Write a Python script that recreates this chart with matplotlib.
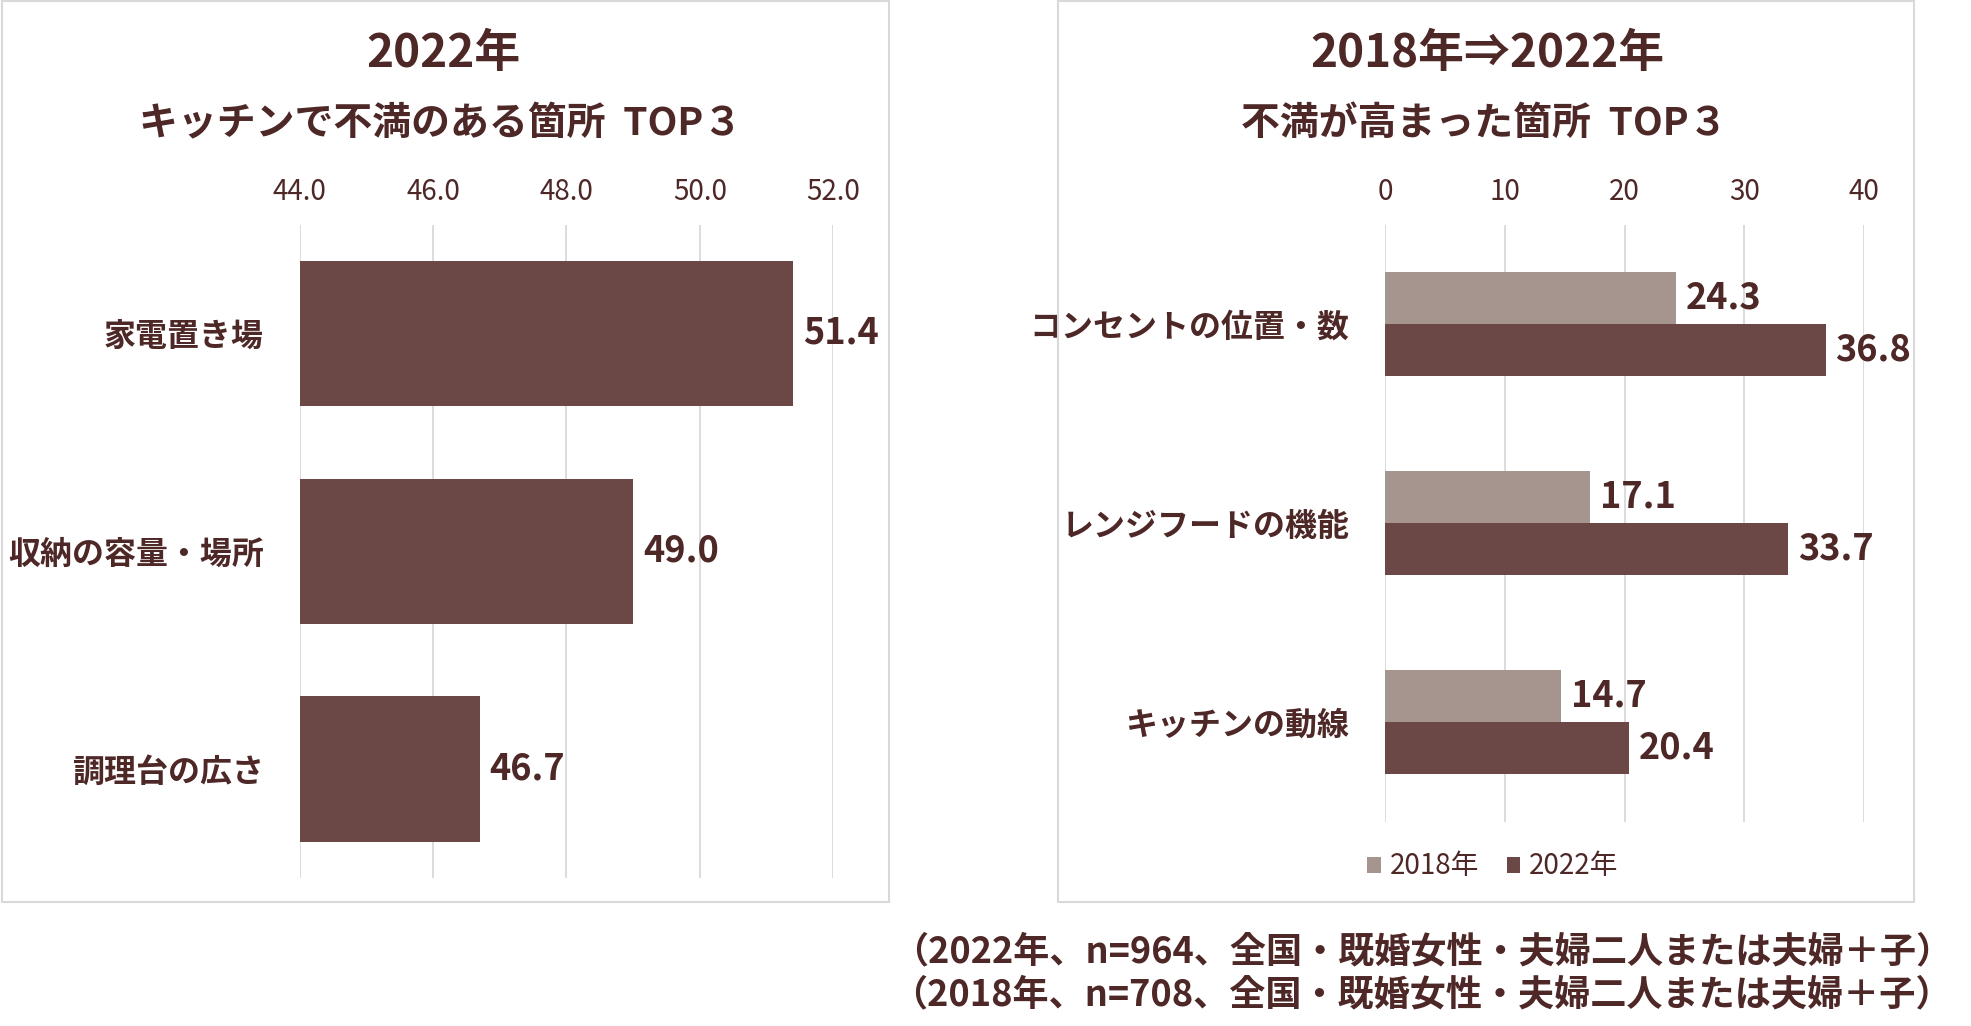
import numpy as np
import matplotlib.pyplot as plt
from matplotlib.patches import Rectangle

plt.rcParams['font.family'] = ['Noto Sans CJK JP', 'DejaVu Sans']
plt.rcParams['axes.unicode_minus'] = False

##### data
left_categories = ['家電置き場', '収納の容量・場所', '調理台の広さ']
left_values = [51.4, 49.0, 46.7]
left_ticks = [44.0, 46.0, 48.0, 50.0, 52.0]

right_categories = ['コンセントの位置・数', 'レンジフードの機能', 'キッチンの動線']
values_2018 = [24.3, 17.1, 14.7]
values_2022 = [36.8, 33.7, 20.4]
right_ticks = [0, 10, 20, 30, 40]
series_names = ['2018年', '2022年']

notes = ['（2022年、n=964、全国・既婚女性・夫婦二人または夫婦＋子）',
         '（2018年、n=708、全国・既婚女性・夫婦二人または夫婦＋子）']

##### styles
text_color = '#4E2727'
dark_bar = '#6B4745'
light_bar = '#A6958F'
grid_color = '#D9D9D9'

fig = plt.figure(figsize=(19.71, 10.26), dpi=100)

#### panel frames
for x0, x1 in [(0.001, 0.451), (0.537, 0.971)]:
    fig.patches.append(Rectangle((x0, 0.1206), x1 - x0, 0.8784, transform=fig.transFigure,
                                 fill=False, edgecolor='#D9D9D9', linewidth=1.5))

#### titles
fig.text(0.2252, 0.9478, '2022年', ha='center', va='center', fontsize=33, fontweight='bold', color=text_color)
fig.text(0.2233, 0.8794, 'キッチンで不満のある箇所  TOP３', ha='center', va='center', fontsize=28,
         fontweight='bold', color=text_color)
fig.text(0.7547, 0.9478, '2018年⇒2022年', ha='center', va='center', fontsize=33, fontweight='bold',
         color=text_color)
fig.text(0.7528, 0.8794, '不満が高まった箇所  TOP３', ha='center', va='center', fontsize=28,
         fontweight='bold', color=text_color)


def style_axis(ax, ticks, fmt):
    ax.xaxis.tick_top()
    ax.set_xticks(ticks)
    ax.set_xticklabels([fmt.format(t) for t in ticks], fontsize=20, color=text_color)
    ax.tick_params(axis='x', length=0, pad=13)
    ax.tick_params(axis='y', length=0, pad=26)
    for label in ax.get_yticklabels():
        label.set_fontsize(23)
        label.set_fontweight('bold')
        label.set_color(text_color)
    for spine in ax.spines.values():
        spine.set_visible(False)
    ax.grid(axis='x', color=grid_color, linewidth=1.3)
    ax.set_axisbelow(True)


#### left chart
ax1 = fig.add_axes([0.1521, 0.1443, 0.2706, 0.6368])
y1 = np.arange(len(left_categories))
bars = ax1.barh(y1, left_values, height=0.667, color=dark_bar)
ax1.set_xlim(44, 52)
ax1.set_ylim(2.5, -0.5)
ax1.set_yticks(y1)
ax1.set_yticklabels(left_categories)
style_axis(ax1, left_ticks, '{:.1f}')
ax1.bar_label(bars, labels=[f'{v:.1f}' for v in left_values], padding=7, fontsize=26,
              fontweight='bold', color=text_color)

#### right chart
ax2 = fig.add_axes([0.7029, 0.199, 0.2427, 0.5821])
y2 = np.arange(len(right_categories))
h = 0.262
b1 = ax2.barh(y2 - h / 2, values_2018, height=h, color=light_bar, label=series_names[0])
b2 = ax2.barh(y2 + h / 2, values_2022, height=h, color=dark_bar, label=series_names[1])
ax2.set_xlim(0, 40)
ax2.set_ylim(2.5, -0.5)
ax2.set_yticks(y2)
ax2.set_yticklabels(right_categories)
style_axis(ax2, right_ticks, '{:d}')
for b, vals in [(b1, values_2018), (b2, values_2022)]:
    ax2.bar_label(b, labels=[f'{v:.1f}' for v in vals], padding=7, fontsize=26,
                  fontweight='bold', color=text_color)

ax2.legend(loc='center', bbox_to_anchor=(0.7573, 0.1555), bbox_transform=fig.transFigure, ncol=2,
           frameon=False, fontsize=20, handlelength=0.5, handleheight=0.5, handletextpad=0.3,
           columnspacing=1.0, labelcolor=text_color)

#### footnotes
fig.text(0.9903, 0.0721, notes[0], ha='right', va='center', fontsize=26, fontweight='bold', color=text_color)
fig.text(0.9903, 0.0299, notes[1], ha='right', va='center', fontsize=26, fontweight='bold', color=text_color)

fig.savefig('out.png', dpi=100)
